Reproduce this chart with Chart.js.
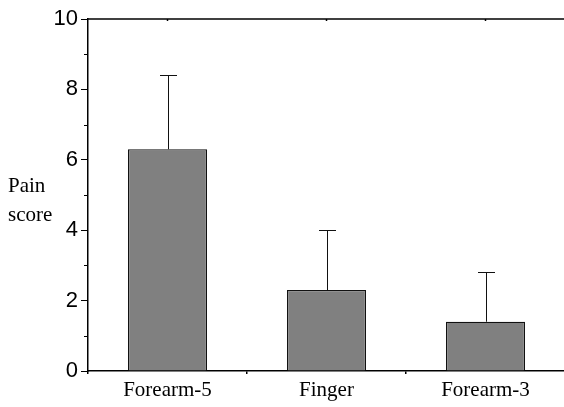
<!DOCTYPE html>
<html>
<head>
<meta charset="utf-8">
<script src="https://cdn.jsdelivr.net/npm/chart.js@4/dist/chart.umd.min.js"></script>
<style>
  html, body { margin: 0; padding: 0; background: #fff; overflow: hidden; }
  #wrap { width: 564px; height: 407px; overflow: hidden; position: relative; }
  canvas { display: block; }
</style>
</head>
<body>
<div id="wrap"><canvas id="c" width="566" height="407"></canvas></div>
<script>
const categories = ['Forearm-5', 'Finger', 'Forearm-3'];
const meanScores = [6.3, 2.3, 1.4];
const upperErrors = [8.4, 4.0, 2.8];
const yTickValues = [0, 2, 4, 6, 8, 10];
const yMinorTickValues = [1, 3, 5, 7, 9];
const yAxisTitleLines = ['Pain', 'score'];

const decorations = {
  id: 'decorations',
  afterDatasetsDraw(chart) {
    const ctx = chart.ctx;
    const meta = chart.getDatasetMeta(0);
    const ys = chart.scales.y;
    ctx.save();
    ctx.strokeStyle = '#111';
    ctx.lineWidth = 1;
    meta.data.forEach((bar, i) => {
      const x = Math.round(bar.x) + 0.5;
      const yTop = ys.getPixelForValue(meanScores[i]);
      const yErr = Math.round(ys.getPixelForValue(upperErrors[i])) + 0.5;
      ctx.beginPath();
      ctx.moveTo(x, yTop);
      ctx.lineTo(x, yErr);
      ctx.moveTo(x - 8.5, yErr);
      ctx.lineTo(x + 8.5, yErr);
      ctx.stroke();
    });
    ctx.restore();
  },
  afterDraw(chart) {
    const ctx = chart.ctx;
    const a = chart.chartArea;
    const ys = chart.scales.y;
    const xs = chart.scales.x;
    ctx.save();
    ctx.strokeStyle = '#000';
    ctx.lineWidth = 1.5;
    ctx.beginPath();
    ctx.moveTo(a.left, a.top);
    ctx.lineTo(a.right + 2, a.top);
    ctx.stroke();
    categories.forEach((c, i) => {
      const x = xs.getPixelForValue(i);
      ctx.beginPath();
      ctx.moveTo(x, a.top);
      ctx.lineTo(x, a.top + 2);
      ctx.stroke();
    });
    ctx.lineWidth = 1;
    yMinorTickValues.forEach(v => {
      const y = Math.round(ys.getPixelForValue(v)) + 0.5;
      ctx.beginPath();
      ctx.moveTo(a.left - 4, y);
      ctx.lineTo(a.left, y);
      ctx.stroke();
    });
    ctx.fillStyle = '#000';
    ctx.font = '21px "Liberation Serif", "Times New Roman", serif';
    ctx.textAlign = 'left';
    ctx.textBaseline = 'alphabetic';
    ctx.fillText(yAxisTitleLines[0], 8, 192);
    ctx.fillText(yAxisTitleLines[1], 8, 221);
    ctx.restore();
  }
};

new Chart(document.getElementById('c'), {
  type: 'bar',
  data: {
    labels: categories,
    datasets: [{
      data: meanScores,
      backgroundColor: '#808080',
      borderColor: '#111',
      borderWidth: 1.2,
      borderSkipped: 'bottom',
      barPercentage: 1,
      categoryPercentage: 0.497
    }]
  },
  options: {
    responsive: false,
    animation: false,
    devicePixelRatio: 1,
    layout: { padding: { left: 0, top: 19, right: 1, bottom: 0 } },
    plugins: { legend: { display: false }, tooltip: { enabled: false } },
    scales: {
      x: {
        grid: { display: true, drawOnChartArea: false, drawTicks: true, tickLength: 3, color: '#000', lineWidth: 1.5 },
        border: { display: true, color: '#000', width: 1.5 },
        ticks: {
          color: '#000',
          padding: 4,
          font: { family: '"Liberation Serif", "Times New Roman", serif', size: 21 }
        },
        afterFit(s) { s.height = 36; }
      },
      y: {
        min: 0, max: 10,
        afterBuildTicks(s) { s.ticks = yTickValues.map(v => ({ value: v })); },
        grid: { display: true, drawOnChartArea: false, drawTicks: true, tickLength: 7, color: '#000', lineWidth: 1 },
        border: { display: true, color: '#000', width: 1.5 },
        ticks: {
          color: '#000',
          padding: 3,
          font: { family: '"Liberation Sans", Arial, sans-serif', size: 22 }
        },
        afterFit(s) { s.width = 88; }
      }
    }
  },
  plugins: [decorations]
});
</script>
</body>
</html>
